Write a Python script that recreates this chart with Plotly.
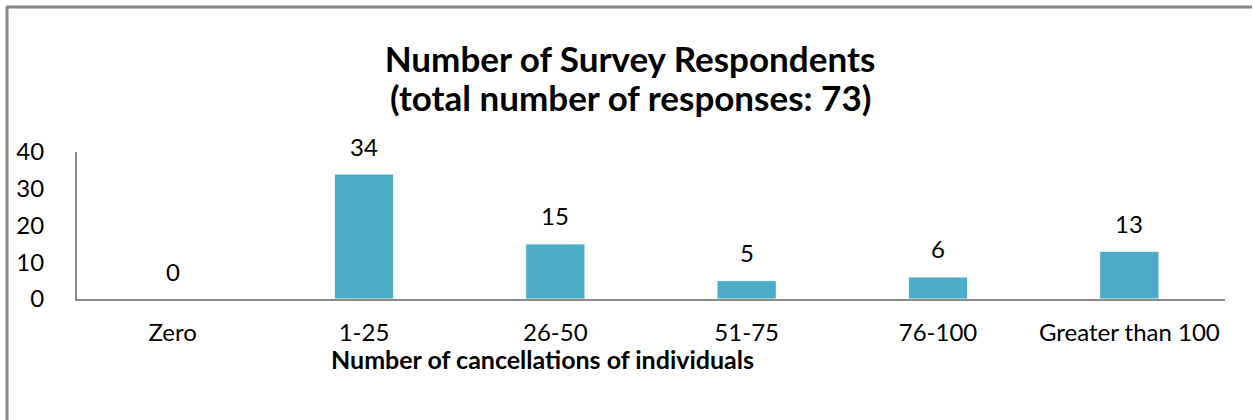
import plotly.graph_objects as go

categories = ["Zero", "1-25", "26-50", "51-75", "76-100", "Greater than 100"]
respondents = [0, 34, 15, 5, 6, 13]
y_ticks = [0, 10, 20, 30, 40]
title_line1 = "<b>Number of Survey Respondents</b>"
title_line2 = "<b>(total number of responses: 73)</b>"
x_title = "<b>Number of cancellations of individuals</b>"

FONT = "Lato, Carlito, Calibri, sans-serif"
W, H = 1253, 420
ML, MR, MT, MB = 77, 28, 152, 121
PW = W - ML - MR
PH = H - MT - MB

def px_x(p):
    return (p - ML) / PW

def px_y(p):
    return (H - MB - p) / PH

fig = go.Figure()
fig.add_trace(go.Bar(
    x=categories, y=respondents,
    marker=dict(color="#4BACC6", line=dict(color="white", width=1)),
    hoverinfo="x+y",
))

for c, v in zip(categories, respondents):
    fig.add_annotation(x=c, y=v, text=str(v), showarrow=False, yshift=28,
                       font=dict(family=FONT, size=24, color="black"))

fig.add_annotation(x=px_x(542), y=px_y(359), xref="paper", yref="paper",
                   yanchor="middle", text=x_title, showarrow=False,
                   font=dict(family=FONT, size=25, color="black"))

fig.add_annotation(x=px_x(630), y=px_y(97), xref="paper", yref="paper",
                   yanchor="middle", text=title_line2, showarrow=False,
                   font=dict(family=FONT, size=35, color="black"))

fig.update_layout(
    width=W, height=H,
    margin=dict(l=ML, r=MR, t=MT, b=MB, pad=0),
    paper_bgcolor="white", plot_bgcolor="white",
    bargap=0.69,
    showlegend=False,
    title=dict(text=title_line1, x=px_x(630), xref="paper", xanchor="center",
               y=1 - 60 / H, yanchor="middle",
               font=dict(family=FONT, size=35, color="black")),
    xaxis=dict(showline=True, linecolor="#8a8a8a", linewidth=2,
               showgrid=False, ticks="", ticklabelstandoff=11,
               tickfont=dict(family=FONT, size=24, color="black")),
    yaxis=dict(range=[0, 40], tickvals=y_ticks, showline=True,
               linecolor="#8a8a8a", linewidth=2, showgrid=False,
               zeroline=False, ticks="", ticklabelstandoff=26,
               tickfont=dict(family=FONT, size=24, color="black")),
    shapes=[
        dict(type="line", xref="paper", yref="paper", x0=px_x(7), x1=px_x(7),
             y0=px_y(7), y1=px_y(425), line=dict(color="#888888", width=3)),
        dict(type="line", xref="paper", yref="paper", x0=px_x(6), x1=px_x(1252),
             y0=px_y(7), y1=px_y(7), line=dict(color="#888888", width=3)),
    ],
)

fig.write_html("out.html", config={"displayModeBar": False},
               post_script="document.body.style.margin='0';document.body.style.overflow='hidden';")
